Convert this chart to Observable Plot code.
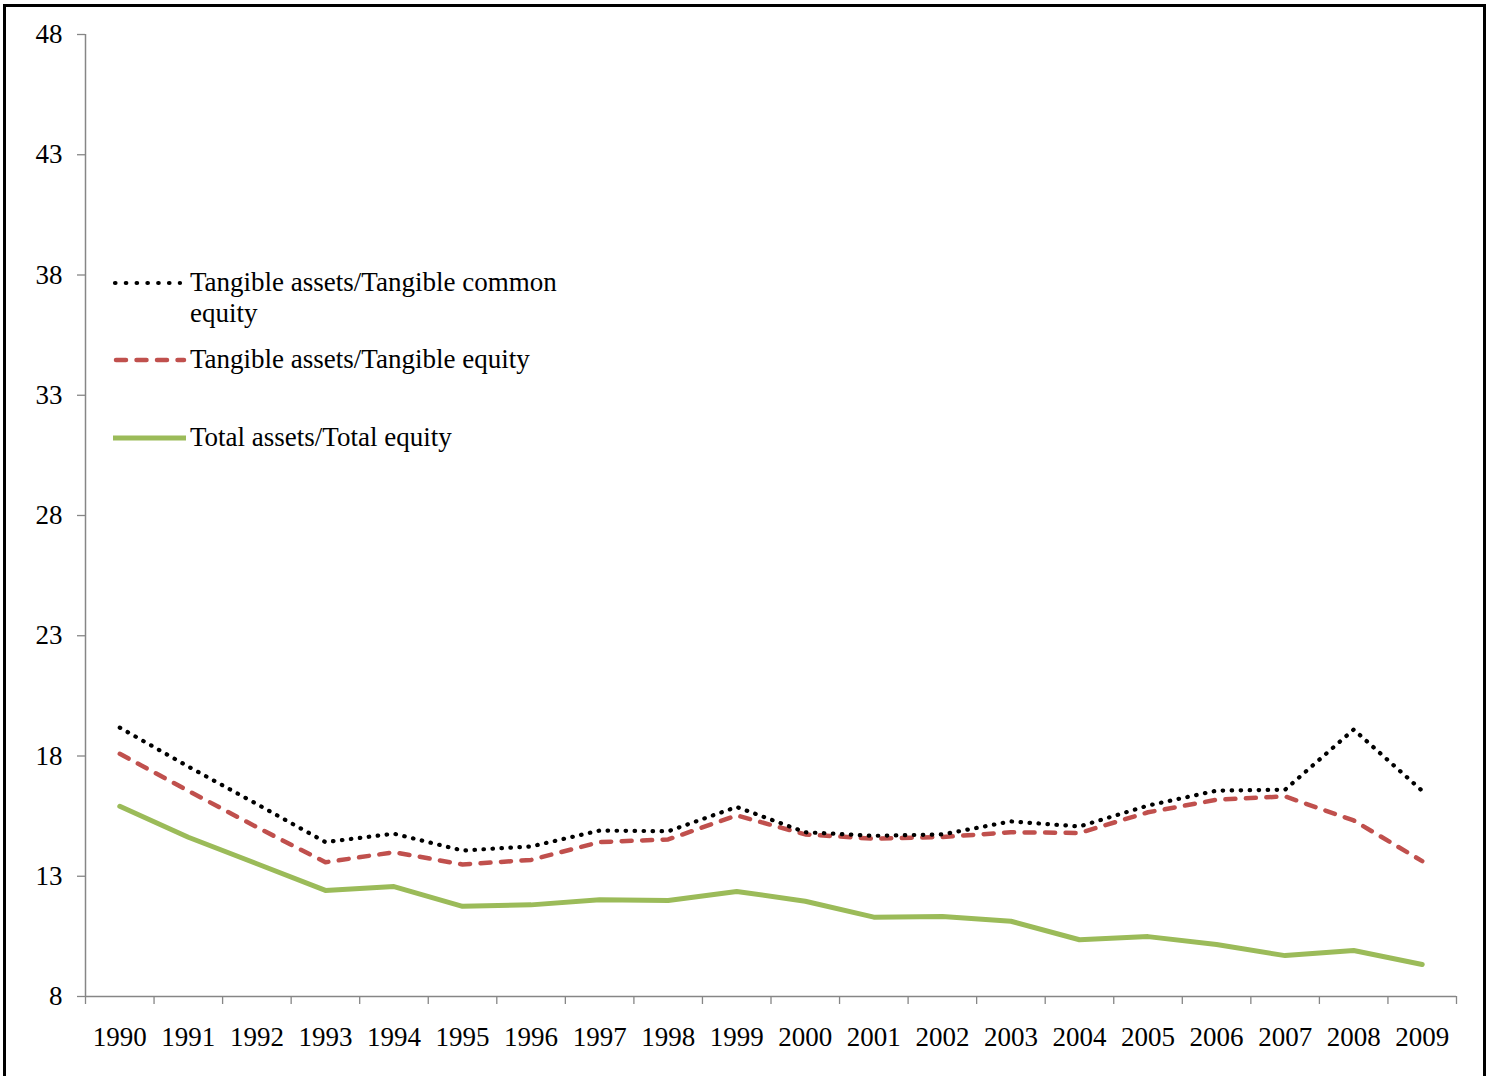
<!DOCTYPE html>
<html>
<head>
<meta charset="utf-8">
<script src="https://cdn.jsdelivr.net/npm/d3@7"></script>
<script src="https://cdn.jsdelivr.net/npm/@observablehq/plot@0.6"></script>
<style>
  html, body { margin: 0; padding: 0; background: #fff; overflow: hidden; width: 1489px; height: 1076px; }
  #chart { position: absolute; left: 0; top: 0; }
  #frame { position: absolute; left: 3px; top: 4px; width: 1477px; height: 1200px; border: 3px solid #000; border-bottom: none; pointer-events: none; }
  #legend { position: absolute; left: 0; top: 0; width: 1489px; height: 1076px; pointer-events: none; font-family: "Liberation Serif", "Times New Roman", serif; font-size: 27px; color: #000; }
  .lt { position: absolute; left: 190px; line-height: 31px; white-space: nowrap; }
</style>
</head>
<body>
<div id="chart"></div>
<div id="legend">
  <svg width="1489" height="1076" style="position:absolute;left:0;top:0">
    <line x1="115" x2="180" y1="283" y2="283" stroke="#000" stroke-width="4.2" stroke-linecap="round" stroke-dasharray="0.5 10.3"/>
    <line x1="116" x2="184" y1="360" y2="360" stroke="#C0504D" stroke-width="4.5" stroke-linecap="round" stroke-dasharray="10 10.5"/>
    <line x1="113" x2="186" y1="438" y2="438" stroke="#9BBB59" stroke-width="5"/>
  </svg>
  <div class="lt" style="top:267px">Tangible assets/Tangible common<br>equity</div>
  <div class="lt" style="top:344px">Tangible assets/Tangible equity</div>
  <div class="lt" style="top:422px">Total assets/Total equity</div>
</div>
<div id="frame"></div>
<script>
const years = [1990, 1991, 1992, 1993, 1994, 1995, 1996, 1997, 1998, 1999,
               2000, 2001, 2002, 2003, 2004, 2005, 2006, 2007, 2008, 2009];
const tangibleCommon = [19.18, 17.56, 16.0, 14.42, 14.77, 14.07, 14.24, 14.9, 14.87, 15.88,
                        14.83, 14.68, 14.74, 15.28, 15.07, 15.94, 16.56, 16.6, 19.1, 16.55];
const tangibleEquity = [18.09, 16.55, 15.04, 13.58, 14.0, 13.49, 13.68, 14.42, 14.53, 15.53,
                        14.74, 14.56, 14.63, 14.83, 14.8, 15.66, 16.18, 16.32, 15.32, 13.63];
const totalEquity = [15.91, 14.62, 13.52, 12.41, 12.57, 11.75, 11.81, 12.02, 11.99, 12.37,
                     11.96, 11.3, 11.33, 11.13, 10.36, 10.49, 10.16, 9.7, 9.91, 9.33];
const yTicks = [8, 13, 18, 23, 28, 33, 38, 43, 48];
const seriesNames = ["Tangible assets/Tangible common equity", "Tangible assets/Tangible equity", "Total assets/Total equity"];

const toRows = (vals, name) => years.map((y, i) => ({year: y, value: vals[i], series: name}));
const rowsA = toRows(tangibleCommon, seriesNames[0]);
const rowsB = toRows(tangibleEquity, seriesNames[1]);
const rowsC = toRows(totalEquity, seriesNames[2]);
const boundaries = [years[0] - 0.5, ...years.map(y => y + 0.5)];

const gray = "#868686";
const chart = Plot.plot({
  width: 1489,
  height: 1076,
  marginLeft: 85,
  marginRight: 33,
  marginTop: 34,
  marginBottom: 80,
  style: {fontFamily: "Liberation Serif, Times New Roman, serif", fontSize: "27px", background: "#fff", color: "#000"},
  x: {type: "linear", domain: [years[0] - 0.5, years[years.length - 1] + 0.5]},
  y: {domain: [yTicks[0], yTicks[yTicks.length - 1]]},
  marks: [
    Plot.axisY(yTicks, {tickSize: 8, tickPadding: 15, stroke: gray, color: "#000", strokeWidth: 1.3, fontSize: 27, label: null}),
    Plot.axisX(boundaries, {tickSize: 8, stroke: gray, strokeWidth: 1.3, tickFormat: () => "", label: null}),
    Plot.axisX(years, {tickSize: 0, tickPadding: 30, tickFormat: d => String(d), color: "#000", fontSize: 27, label: null}),
    Plot.ruleX([boundaries[0]], {stroke: gray, strokeWidth: 1.5}),
    Plot.ruleY([yTicks[0]], {stroke: gray, strokeWidth: 1.5}),
    Plot.line(rowsC, {x: "year", y: "value", stroke: "#9BBB59", strokeWidth: 5}),
    Plot.line(rowsB, {x: "year", y: "value", stroke: "#C0504D", strokeWidth: 4.5, strokeDasharray: "10 10.5", strokeLinecap: "round"}),
    Plot.line(rowsA, {x: "year", y: "value", stroke: "#000", strokeWidth: 4.2, strokeDasharray: "0.5 8.5", strokeLinecap: "round"})
  ]
});
document.getElementById("chart").appendChild(chart);
</script>
</body>
</html>
